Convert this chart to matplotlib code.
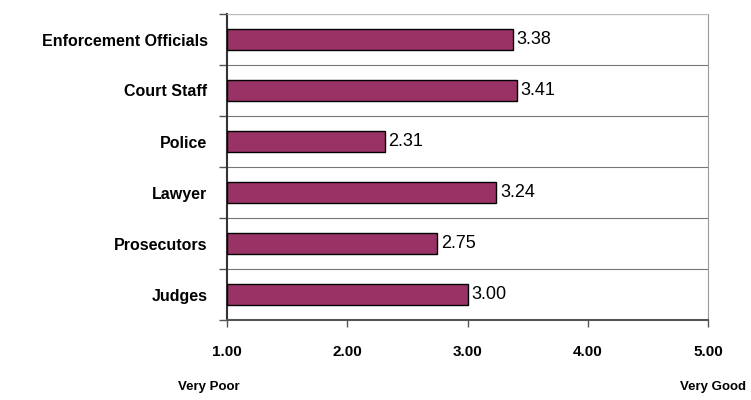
import matplotlib
matplotlib.use("Agg")
import matplotlib.pyplot as plt
import numpy as np

categories = ["Enforcement Officials", "Court Staff", "Police", "Lawyer", "Prosecutors", "Judges"]
values = [3.38, 3.41, 2.31, 3.24, 2.75, 3.00]
xticks = [1.0, 2.0, 3.0, 4.0, 5.0]

plt.rcParams['font.family'] = ['Liberation Sans', 'DejaVu Sans']

fig = plt.figure(figsize=(7.51, 4.0), dpi=100)
ax = fig.add_axes([227/751, 1 - 320/400, (708-227)/751, (320-14)/400])

n = len(categories)
pos = np.arange(n)[::-1]  # top first
ax.barh(pos, np.array(values) - 1.0, left=1.0, height=0.41,
        color="#993366", edgecolor="black", linewidth=1.0, zorder=3)

for p, v in zip(pos, values):
    ax.text(v + 0.03, p, f"{v:.2f}", va="center", ha="left", fontsize=13, zorder=4)

ax.set_xlim(1.0, 5.0)
ax.set_ylim(-0.5, n - 0.5)
ax.set_xticks(xticks)
ax.set_xticklabels([f"{t:.2f}" for t in xticks], fontweight="bold", fontsize=11)
ax.tick_params(axis="x", length=5, width=1, color="#555555", pad=13)

bounds = np.arange(n + 1) - 0.5
ax.set_yticks(bounds)
ax.set_yticklabels([])
ax.tick_params(axis="y", which="major", length=6, width=1, color="#555555")
ax.set_yticks(pos, minor=True)
ax.set_yticklabels(categories, minor=True, fontweight="bold", fontsize=11.5)
ax.tick_params(axis="y", which="minor", length=0, pad=14)

ax.grid(axis="y", which="major", color="#777777", linewidth=0.8, zorder=0)

ax.spines["left"].set_color("#333333")
ax.spines["left"].set_linewidth(1.5)
ax.spines["bottom"].set_color("#555555")
ax.spines["bottom"].set_linewidth(1.5)
ax.spines["top"].set_color("#bbbbbb")
ax.spines["right"].set_color("#999999")

fig.text(178/751, 1 - 387/400, "Very Poor", fontsize=9.5, fontweight="bold", va="center", ha="left")
fig.text(746/751, 1 - 387/400, "Very Good", fontsize=9.5, fontweight="bold", va="center", ha="right")

fig.savefig("out.png", dpi=100)
